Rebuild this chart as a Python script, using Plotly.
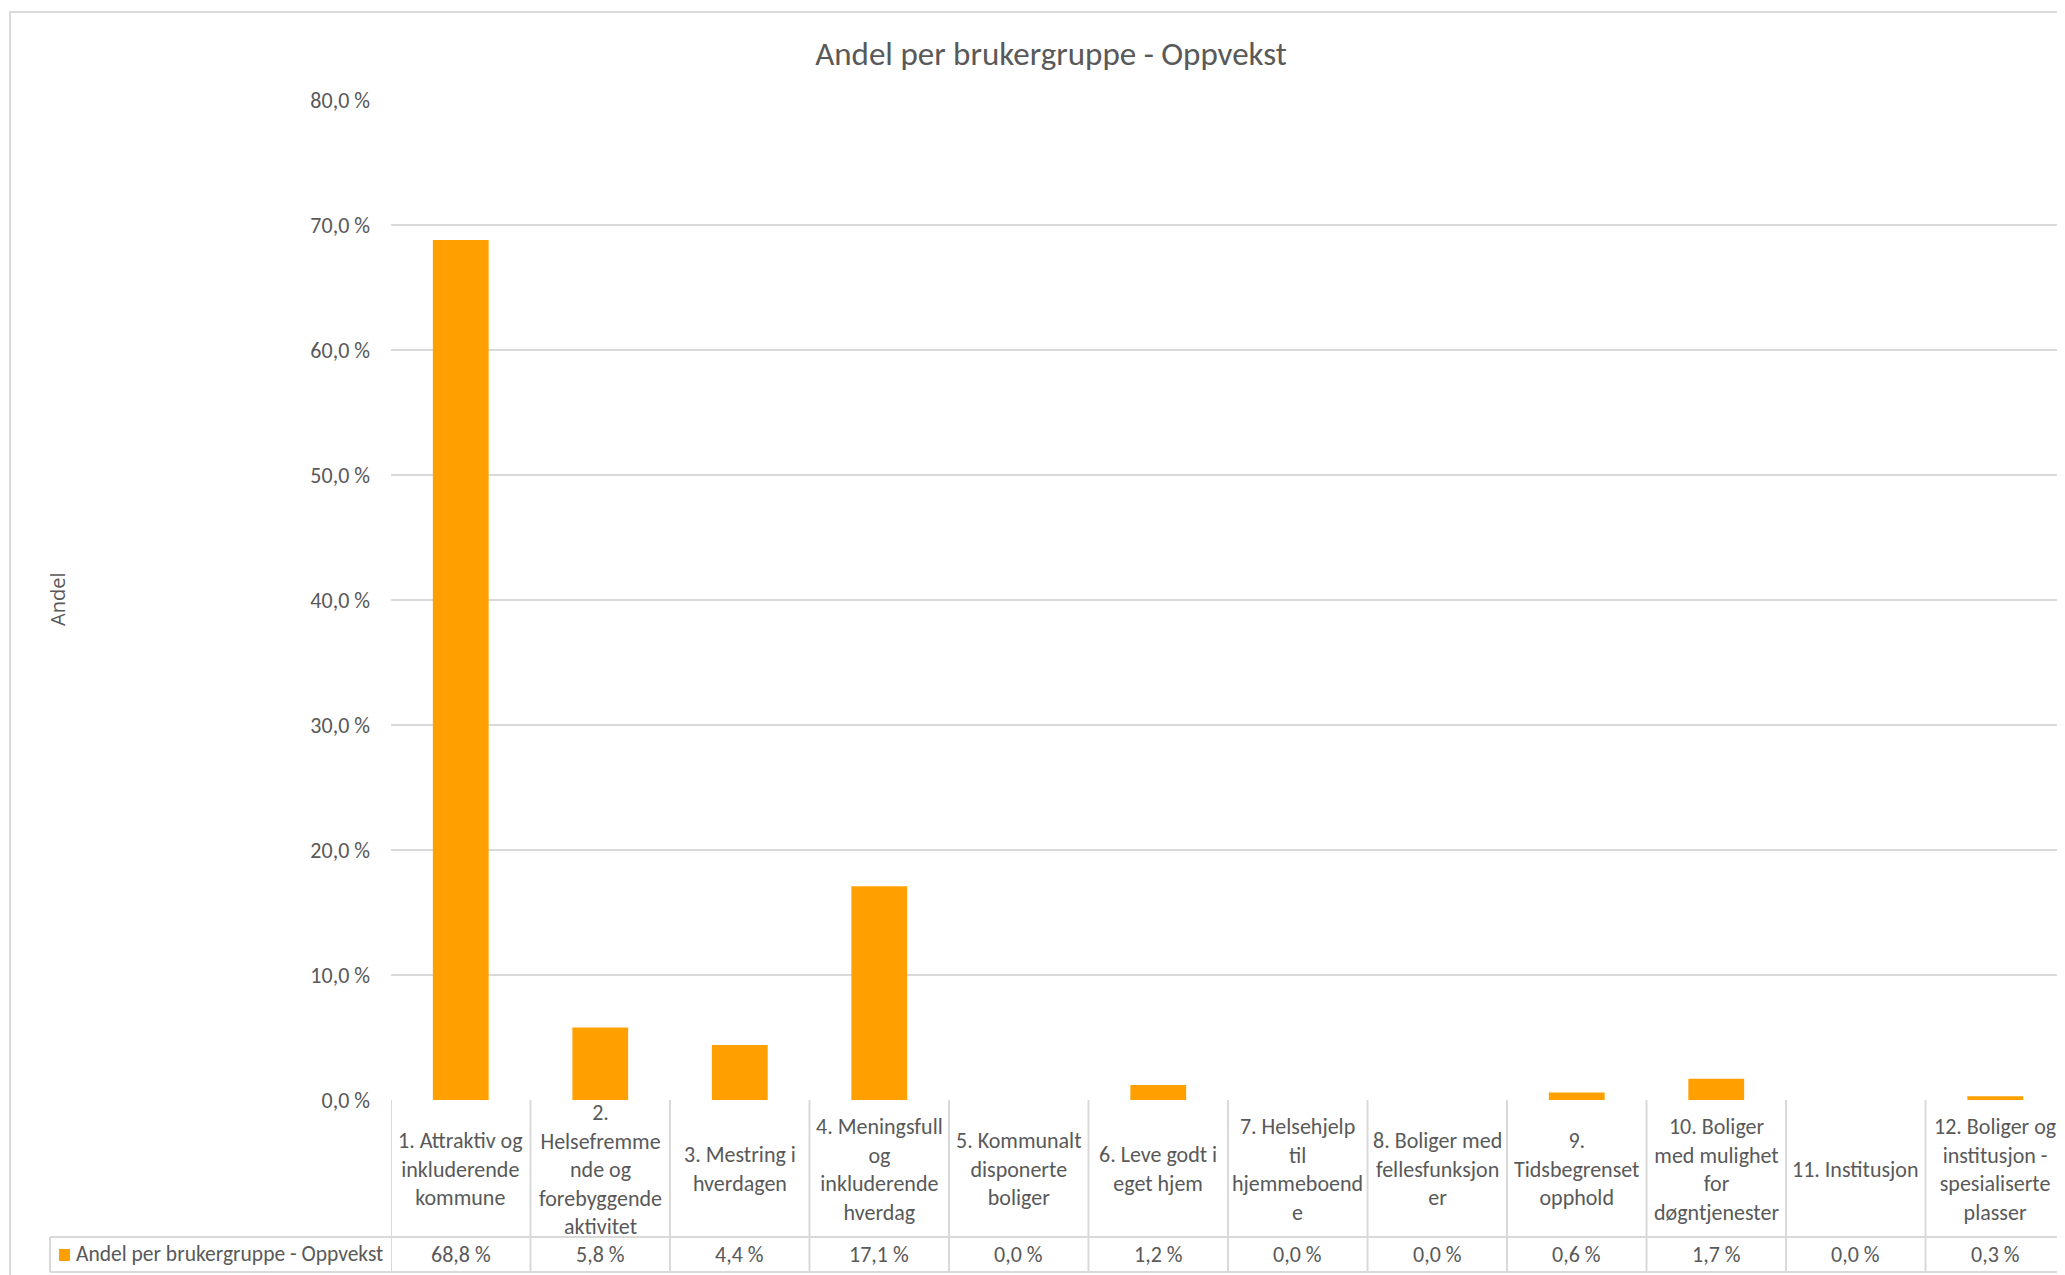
import plotly.graph_objects as go

# ---------------- data ----------------
title_text = "Andel per brukergruppe - Oppvekst"
series_name = "Andel per brukergruppe - Oppvekst"
y_title = "Andel"

categories = [
    "1. Attraktiv og inkluderende kommune",
    "2. Helsefremmende og forebyggende aktivitet",
    "3. Mestring i hverdagen",
    "4. Meningsfull og inkluderende hverdag",
    "5. Kommunalt disponerte boliger",
    "6. Leve godt i eget hjem",
    "7. Helsehjelp til hjemmeboende",
    "8. Boliger med fellesfunksjoner",
    "9. Tidsbegrenset opphold",
    "10. Boliger med mulighet for døgntjenester",
    "11. Institusjon",
    "12. Boliger og institusjon - spesialiserte plasser",
]
category_tick_labels = [
    "1. Attraktiv og<br>inkluderende<br>kommune",
    "2.<br>Helsefremme<br>nde og<br>forebyggende<br>aktivitet",
    "3. Mestring i<br>hverdagen",
    "4. Meningsfull<br>og<br>inkluderende<br>hverdag",
    "5. Kommunalt<br>disponerte<br>boliger",
    "6. Leve godt i<br>eget hjem",
    "7. Helsehjelp<br>til<br>hjemmeboend<br>e",
    "8. Boliger med<br>fellesfunksjon<br>er",
    "9.<br>Tidsbegrenset<br>opphold",
    "10. Boliger<br>med mulighet<br>for<br>døgntjenester",
    "11. Institusjon",
    "12. Boliger og<br>institusjon -<br>spesialiserte<br>plasser",
]
values = [68.8, 5.8, 4.4, 17.1, 0.0, 1.2, 0.0, 0.0, 0.6, 1.7, 0.0, 0.3]
y_tick_values = [0, 10, 20, 30, 40, 50, 60, 70, 80]
y_tick_labels = [f"{t:.1f}".replace(".", ",") + "\u202f%" for t in y_tick_values]
value_labels = [f"{v:.1f}".replace(".", ",") + "\u202f%" for v in values]

# ---------------- style ----------------
OFF = 8                                 # page body margin
W, H = 2065 - OFF, 1275 - OFF
PL, PR, PT, PB = 391 - OFF, 0, 100 - OFF, 175   # plot area margins
PW, PH = W - PL - PR, H - PT - PB
BAR = "#FFA000"
TXT = "#595959"
GRID = "#D9D9D9"
FONT = "Carlito, Lato, Calibri, sans-serif"


def px_x(px):
    """page pixel x -> paper x"""
    return (px - OFF - PL) / PW


def px_y(py):
    """page pixel y -> paper y"""
    return (H - PB - (py - OFF)) / PH


fig = go.Figure()
fig.add_trace(go.Bar(
    x=categories, y=values, name=series_name,
    marker=dict(color=BAR, line=dict(width=0)),
    showlegend=False, hoverinfo="x+y",
))

annotations = []
shapes = []

row_sep_y = px_y(1237)
bottom_y = px_y(1272)
label_mid_y = px_y(1169)
value_mid_y = px_y(1254)

for cat, lab, vl in zip(categories, category_tick_labels, value_labels):
    annotations.append(dict(
        x=cat, xref="x", y=label_mid_y, yref="paper", text=lab,
        showarrow=False, xanchor="center", yanchor="middle", align="center",
        font=dict(family=FONT, size=22, color=TXT),
    ))
    annotations.append(dict(
        x=cat, xref="x", y=value_mid_y, yref="paper", text=vl,
        showarrow=False, xanchor="center", yanchor="middle",
        font=dict(family=FONT, size=22, color=TXT),
    ))

n = len(categories)
for i in range(n + 1):
    shapes.append(dict(
        type="line", xref="x", yref="paper",
        x0=i - 0.5, x1=i - 0.5, y0=0, y1=bottom_y,
        line=dict(color=GRID, width=2),
    ))
for yy in (row_sep_y, bottom_y):
    shapes.append(dict(type="line", xref="paper", yref="paper",
                       x0=px_x(50), x1=1, y0=yy, y1=yy,
                       line=dict(color=GRID, width=2)))
shapes.append(dict(type="line", xref="paper", yref="paper",
                   x0=px_x(50), x1=px_x(50), y0=row_sep_y, y1=bottom_y,
                   line=dict(color=GRID, width=2)))

# legend key in the table
shapes.append(dict(type="rect", xref="paper", yref="paper",
                   x0=px_x(59), x1=px_x(70), y0=px_y(1261), y1=px_y(1249),
                   fillcolor=BAR, line=dict(width=0)))
annotations.append(dict(
    x=px_x(74), xref="paper", y=value_mid_y, yref="paper", text=series_name,
    showarrow=False, xanchor="left", yanchor="middle",
    font=dict(family=FONT, size=21.5, color=TXT),
))

# y axis title
annotations.append(dict(
    x=px_x(57), xref="paper", y=0.5, yref="paper", text=y_title,
    textangle=-90, showarrow=False, xanchor="center", yanchor="middle",
    font=dict(family="Open Sans, sans-serif", size=20, color=TXT),
))

# chart outer border
shapes.append(dict(type="rect", xref="paper", yref="paper",
                   x0=px_x(10), x1=px_x(2100), y0=px_y(1300), y1=px_y(12),
                   line=dict(color=GRID, width=2), fillcolor="rgba(0,0,0,0)",
                   layer="below"))

fig.update_layout(
    width=W, height=H,
    margin=dict(l=PL, r=PR, t=PT, b=PB, autoexpand=False),
    paper_bgcolor="white", plot_bgcolor="white",
    bargap=0.6,
    title=dict(text=title_text, x=(1051 - OFF) / W, xref="container",
               xanchor="center", y=1 - (53 - OFF) / H, yref="container",
               yanchor="middle",
               font=dict(family=FONT, size=33, color=TXT)),
    xaxis=dict(showticklabels=False, showgrid=False, zeroline=False,
               showline=False, ticks="", range=[-0.5, n - 0.5]),
    yaxis=dict(range=[0, 80], tickmode="array", tickvals=y_tick_values,
               ticktext=y_tick_labels,
               showgrid=True, gridcolor=GRID, gridwidth=2,
               zeroline=False, showline=False, ticks="",
               ticklabelstandoff=20,
               tickfont=dict(family=FONT, size=22, color=TXT)),
    annotations=annotations,
    shapes=shapes,
)

fig.write_html("out.html")
